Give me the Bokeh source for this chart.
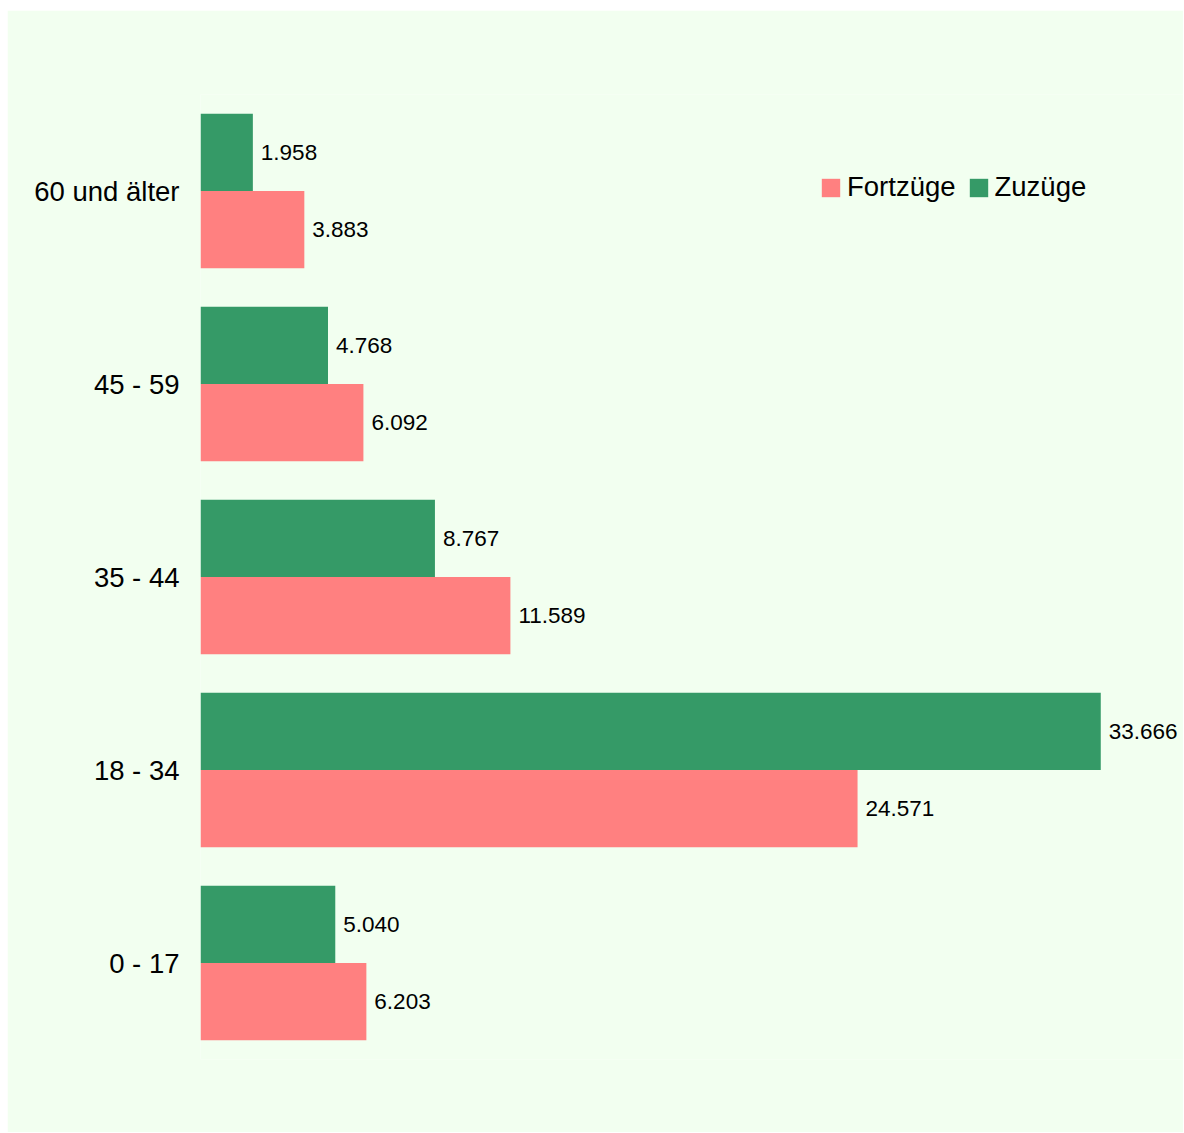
from bokeh.plotting import figure
from bokeh.models import ColumnDataSource, LabelSet, Legend, LegendItem, Range1d, FactorRange, Spacer
from bokeh.layouts import column, row
from bokeh.transform import dodge
from bokeh.core.properties import value
from bokeh.embed import file_html
from bokeh.resources import INLINE

# Data (bottom to top)
categories = ["0 - 17", "18 - 34", "35 - 44", "45 - 59", "60 und älter"]
fortzuege = [6203, 24571, 11589, 6092, 3883]
zuzuege = [5040, 33666, 8767, 4768, 1958]
series_names = ["Fortzüge", "Zuzüge"]

BG = "#f2fff0"
PINK = "#ff8080"
GREEN = "#359a67"
FONT = "Liberation Sans"

def fmt(v):
    return f"{v:,}".replace(",", ".")

src = ColumnDataSource(data=dict(
    cat=categories,
    fort=fortzuege,
    zu=zuzuege,
    fort_lbl=[fmt(v) for v in fortzuege],
    zu_lbl=[fmt(v) for v in zuzuege],
))

p = figure(
    width=1176, height=1122,
    y_range=FactorRange(*categories),
    x_range=Range1d(0, 36760),
    output_backend="svg", toolbar_location=None,
    min_border_left=193, min_border_right=0,
    min_border_top=84, min_border_bottom=73,
    background_fill_color=BG, border_fill_color=BG,
)
p.outline_line_color = None
p.xgrid.visible = False
p.ygrid.visible = False
p.xaxis.visible = False

ya = p.yaxis[0]
ya.axis_line_color = None
ya.major_tick_line_color = None
ya.minor_tick_line_color = None
ya.major_tick_out = 0
ya.major_tick_in = 0
ya.major_label_text_font = FONT
ya.major_label_text_font_size = "27.5px"
ya.major_label_text_color = "#000000"
ya.major_label_standoff = 21

r_fort = p.hbar(y=dodge("cat", -0.2, range=p.y_range), right="fort", left=0, height=0.4,
                source=src, fill_color=PINK, line_color=None)
r_zu = p.hbar(y=dodge("cat", 0.2, range=p.y_range), right="zu", left=0, height=0.4,
              source=src, fill_color=GREEN, line_color=None)

for col, lbl, off in (("fort", "fort_lbl", -0.2), ("zu", "zu_lbl", 0.2)):
    ls = LabelSet(x=col, y=dodge("cat", off, range=p.y_range), text=lbl, source=src,
                  x_offset=8, text_baseline="middle", text_align="left",
                  text_font=value(FONT), text_font_size=value("22.5px"),
                  text_color=value("#000000"))
    p.add_layout(ls)

legend = Legend(
    items=[LegendItem(label=series_names[0], renderers=[r_fort]),
           LegendItem(label=series_names[1], renderers=[r_zu])],
    orientation="horizontal",
    location=(619, 856),
    label_text_font=FONT, label_text_font_size="27.5px", label_text_color="#000000",
    glyph_width=23, glyph_height=23, label_standoff=5, spacing=11,
    padding=0, margin=0, border_line_color=None, background_fill_alpha=0,
)
p.add_layout(legend)

layout = column(Spacer(height=10), row(Spacer(width=7), p))
open("out.html", "w").write(file_html(layout, INLINE))
